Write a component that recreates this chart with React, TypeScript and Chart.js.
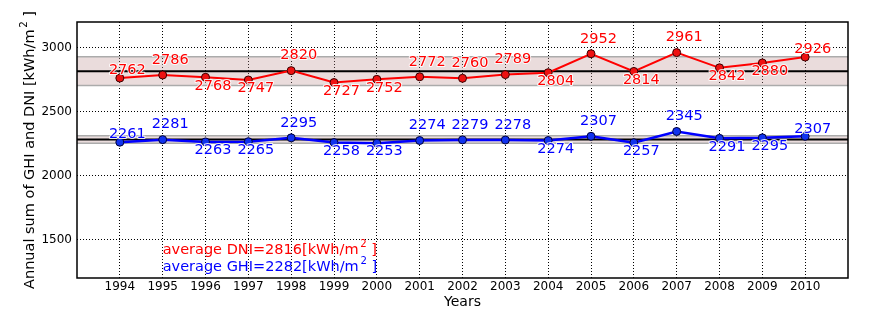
import React, { useEffect, useRef } from 'react';
import { Chart, registerables } from 'chart.js';

Chart.register(...registerables);

const years = [1994, 1995, 1996, 1997, 1998, 1999, 2000, 2001, 2002, 2003, 2004, 2005, 2006, 2007, 2008, 2009, 2010];
const dniValues = [2762, 2786, 2768, 2747, 2820, 2727, 2752, 2772, 2760, 2789, 2804, 2952, 2814, 2961, 2842, 2880, 2926];
const ghiValues = [2261, 2281, 2263, 2265, 2295, 2258, 2253, 2274, 2279, 2278, 2274, 2307, 2257, 2345, 2291, 2295, 2307];
const dniAverage = 2816;
const ghiAverage = 2282;
const dniBand = [2703, 2929];
const ghiBand = [2253, 2311];
const yTicks = [1500, 2000, 2500, 3000];
const xRange = [1993, 2011];
const yRange = [1200, 3200];
// where each value label sits relative to its point
const labelPlacement = ['near', 'above', 'below', 'below', 'above', 'below', 'below', 'above', 'above', 'above', 'below', 'above', 'below', 'above', 'below', 'below', 'near'];
const dniNote = 'average DNI=2816[kWh/m';
const ghiNote = 'average GHI=2282[kWh/m';
const yTitle = 'Annual sum of GHI and DNI [kWh/m';
const xTitle = 'Years';

const FONT = '"DejaVu Sans", sans-serif';

const flat = (v: number) => [
  { x: xRange[0], y: v },
  { x: xRange[1], y: v },
];

function drawSup(ctx: CanvasRenderingContext2D, main: string, x: number, y: number, size: number, align: 'left' | 'center') {
  ctx.font = `${size}px ${FONT}`;
  const w1 = ctx.measureText(main).width;
  const supSize = size * 0.7;
  ctx.font = `${supSize}px ${FONT}`;
  const gap = size * 0.12;
  const ws = ctx.measureText('2').width;
  ctx.font = `${size}px ${FONT}`;
  const w2 = ctx.measureText(' ]').width;
  const total = w1 + gap + ws + w2;
  let sx = align === 'left' ? x : x - total / 2;
  ctx.textAlign = 'left';
  ctx.textBaseline = 'alphabetic';
  ctx.fillText(main, sx, y);
  ctx.font = `${supSize}px ${FONT}`;
  ctx.fillText('2', sx + w1 + gap, y - size * 0.45);
  ctx.font = `${size}px ${FONT}`;
  ctx.fillText(' ]', sx + w1 + gap + ws, y);
}

const overlayPlugin = {
  id: 'overlay',
  afterDatasetsDraw(chart: any) {
    const ctx: CanvasRenderingContext2D = chart.ctx;
    const xs = chart.scales.x;
    const ys = chart.scales.y;
    const ca = chart.chartArea;
    ctx.save();
    ctx.strokeStyle = '#000';
    ctx.lineWidth = 1.5;
    ctx.strokeRect(ca.left, ca.top, ca.right - ca.left, ca.bottom - ca.top);

    const dy: Record<string, number> = { near: -7.5, above: -15, below: 8.5 };
    ctx.font = `14.5px ${FONT}`;
    ctx.textAlign = 'center';
    ctx.textBaseline = 'middle';
    ctx.lineJoin = 'round';
    const series: [number[], string][] = [
      [dniValues, '#ff0000'],
      [ghiValues, '#0000ff'],
    ];
    series.forEach(([vals, color]) => {
      vals.forEach((v, i) => {
        const px = xs.getPixelForValue(years[i]) + 7.5;
        const py = ys.getPixelForValue(v) + dy[labelPlacement[i]];
        ctx.strokeStyle = 'rgba(255,255,255,0.85)';
        ctx.lineWidth = 2;
        ctx.strokeText(String(v), px, py);
        ctx.fillStyle = color;
        ctx.fillText(String(v), px, py);
      });
    });

    const nx = xs.getPixelForValue(1995);
    ctx.fillStyle = '#ff0000';
    drawSup(ctx, dniNote, nx, ys.getPixelForValue(1390), 14.5, 'left');
    ctx.fillStyle = '#0000ff';
    drawSup(ctx, ghiNote, nx, ys.getPixelForValue(1258), 14.5, 'left');

    // axis titles
    ctx.fillStyle = '#000';
    ctx.font = `14px ${FONT}`;
    ctx.textAlign = 'center';
    ctx.textBaseline = 'alphabetic';
    ctx.fillText(xTitle, (ca.left + ca.right) / 2, 305.5);

    ctx.save();
    ctx.translate(34, (ca.top + ca.bottom) / 2);
    ctx.rotate(-Math.PI / 2);
    drawSup(ctx, yTitle, 0, 0, 14.5, 'center');
    ctx.restore();

    ctx.restore();
  },
};

export default function App() {
  const ref = useRef<HTMLCanvasElement | null>(null);
  useEffect(() => {
    if (!ref.current) return;
    const bandFill = 'rgba(185,138,138,0.3)';
    const bandEdge = '#ababab';
    const chart = new Chart(ref.current, {
      type: 'line',
      data: {
        datasets: [
          {
            label: 'DNI',
            data: years.map((y, i) => ({ x: y, y: dniValues[i] })),
            borderColor: '#ff0000',
            borderWidth: 2,
            pointRadius: 4,
            pointBackgroundColor: '#ee1111',
            pointBorderColor: '#3a0000',
            pointBorderWidth: 1,
            fill: false,
            order: 1,
          } as any,
          {
            label: 'GHI',
            data: years.map((y, i) => ({ x: y, y: ghiValues[i] })),
            borderColor: '#0000ff',
            borderWidth: 2.5,
            pointRadius: 4,
            pointBackgroundColor: '#1133ee',
            pointBorderColor: '#00003a',
            pointBorderWidth: 1,
            fill: false,
            order: 1,
          },
          {
            label: 'DNI avg',
            data: flat(dniAverage),
            borderColor: '#000',
            borderWidth: 2,
            pointRadius: 0,
            fill: false,
            order: 5,
          },
          {
            label: 'GHI avg',
            data: flat(ghiAverage),
            borderColor: '#000',
            borderWidth: 2,
            pointRadius: 0,
            fill: false,
            order: 5,
          },
          {
            label: 'DNI band low',
            data: flat(dniBand[0]),
            borderColor: bandEdge,
            borderWidth: 1.5,
            pointRadius: 0,
            fill: false,
            order: 10,
          },
          {
            label: 'DNI band high',
            data: flat(dniBand[1]),
            borderColor: bandEdge,
            borderWidth: 1.5,
            pointRadius: 0,
            backgroundColor: bandFill,
            fill: 4,
            order: 10,
          },
          {
            label: 'GHI band low',
            data: flat(ghiBand[0]),
            borderColor: bandEdge,
            borderWidth: 1.5,
            pointRadius: 0,
            fill: false,
            order: 10,
          },
          {
            label: 'GHI band high',
            data: flat(ghiBand[1]),
            borderColor: bandEdge,
            borderWidth: 1.5,
            pointRadius: 0,
            backgroundColor: bandFill,
            fill: 6,
            order: 10,
          },
        ],
      },
      options: {
        responsive: false,
        animation: false,
        layout: { padding: { top: 22, right: 21, left: 0, bottom: 0 } },
        plugins: {
          legend: { display: false },
          tooltip: { enabled: false },
        },
        scales: {
          x: {
            type: 'linear',
            min: xRange[0],
            max: xRange[1],
            afterBuildTicks: (s: any) => {
              s.ticks = years.map((v) => ({ value: v }));
            },
            afterFit: (s: any) => {
              s.height = 42;
            },
            grid: { color: '#000', lineWidth: 1, drawTicks: false, borderDash: [1, 2] } as any,
            border: { display: false, dash: [1, 2] },
            ticks: {
              color: '#000',
              font: { family: FONT, size: 12 },
              padding: 2,
              maxRotation: 0,
              autoSkip: false,
              callback: (v: any) => String(v),
            },
          },
          y: {
            type: 'linear',
            min: yRange[0],
            max: yRange[1],
            afterBuildTicks: (s: any) => {
              s.ticks = yTicks.map((v) => ({ value: v }));
            },
            afterFit: (s: any) => {
              s.width = 77;
            },
            grid: { color: '#000', lineWidth: 1, drawTicks: false } as any,
            border: { display: false, dash: [1, 2] },
            ticks: {
              color: '#000',
              font: { family: FONT, size: 12 },
              padding: 5,
              callback: (v: any) => String(v),
            },
          },
        },
      },
      plugins: [overlayPlugin],
    });
    return () => chart.destroy();
  }, []);
  return (
    <div style={{ position: 'absolute', left: 0, top: 0, width: 869, height: 320, background: '#fff' }}>
      <canvas ref={ref} width={869} height={320} style={{ width: 869, height: 320 }} />
    </div>
  );
}
